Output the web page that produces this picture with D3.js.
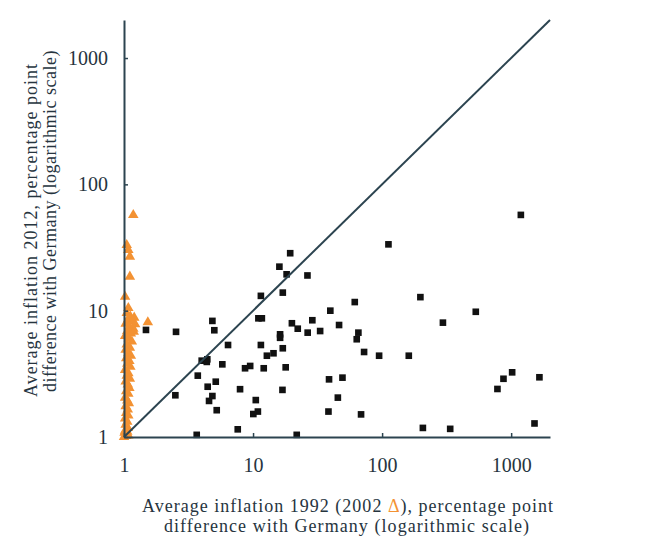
<!DOCTYPE html>
<html>
<head>
<meta charset="utf-8">
<script src="https://cdn.jsdelivr.net/npm/d3@7"></script>
<style>
  body { margin: 0; background: #fff; }
  text { font-family: "Liberation Serif", "Times New Roman", serif; fill: #26343e; white-space: pre; }
</style>
</head>
<body>
<div id="chart"></div>
<script>
// 1992 (x) vs 2012 (y), percentage point difference with Germany
const sqX = [19.4, 16.0, 18.2, 26.4, 17.0, 11.5, 11.0, 11.7, 4.84, 2.53, 5.01, 20.0, 22.2, 26.5, 28.8,
  16.2, 16.2, 6.4, 11.5, 17.0, 14.4, 12.8, 4.0, 4.42, 4.38, 5.78, 9.5, 8.67, 12.1, 17.9,
  3.73, 5.14, 4.45, 7.93, 16.9, 2.5, 4.84, 4.56, 10.5, 5.23, 10.9, 10.05, 7.61, 3.66, 21.8,
  1189, 112, 33.1, 39.7, 61.4, 46.4, 65.5, 63.6, 72.5, 94.8, 161, 198, 296, 532,
  38.8, 49.3, 45.4, 38.4, 68.7, 207, 337, 783, 872, 1018, 1656, 1517, 1.48];
const sqY = [28.5, 22.3, 19.4, 19.0, 13.9, 13.1, 8.7, 8.7, 8.3, 6.8, 7.0, 7.95, 7.2, 6.7, 8.4,
  6.5, 6.1, 5.35, 5.35, 5.04, 4.6, 4.4, 4.02, 4.12, 3.93, 3.76, 3.65, 3.5, 3.5, 3.56,
  3.06, 2.74, 2.5, 2.39, 2.36, 2.14, 2.11, 1.93, 1.96, 1.63, 1.59, 1.52, 1.15, 1.04, 1.04,
  57.3, 33.5, 6.9, 10.0, 11.7, 7.7, 6.7, 5.94, 4.71, 4.4, 4.4, 12.8, 8.04, 9.8,
  2.86, 2.95, 2.05, 1.59, 1.51, 1.18, 1.16, 2.4, 2.89, 3.25, 2.97, 1.28, 7.04];

// 2002 (x) vs 2012 (y), orange triangles
const triX = [1.18, 1.05, 1.08, 1.11, 1.11, 1.02, 1.08, 1.53,
  1.05, 1.12, 1.08, 1.15, 1.03, 1.10, 1.18, 1.06, 1.13, 1.02, 1.09, 1.15, 1.05, 1.11, 1.03, 1.08,
  1.13, 1.04, 1.10, 1.06, 1.12, 1.02, 1.08, 1.05, 1.11, 1.03, 1.07, 1.10, 1.04, 1.08, 1.02, 1.06,
  1.09, 1.03, 1.07, 1.04, 1.08, 1.02, 1.06, 1.03, 1.07, 1.02, 1.05, 1.0, 1.04, 1.08, 1.20, 1.22, 1.19,
  1.01, 1.06];
const triY = [57.2, 33.1, 30.2, 26.8, 18.6, 12.9, 10.5, 8.1,
  9.6, 9.0, 8.6, 8.2, 7.9, 7.5, 7.2, 6.9, 6.6, 6.3, 6.0, 5.7, 5.4, 5.1, 4.9, 4.6,
  4.4, 4.2, 4.0, 3.8, 3.6, 3.4, 3.2, 3.05, 2.9, 2.75, 2.6, 2.45, 2.3, 2.2, 2.05, 1.95,
  1.85, 1.75, 1.65, 1.55, 1.48, 1.4, 1.32, 1.25, 1.18, 1.12, 1.06, 1.0, 1.02, 1.03, 8.8, 7.8, 6.8,
  1.08, 1.1];

const ticks = [1, 10, 100, 1000];
const domain = [1, 2000];

const width = 666, height = 538;
const svg = d3.select("#chart").append("svg")
  .attr("width", width)
  .attr("height", height);

const x = d3.scaleLog().domain(domain).range([124, 550]);
const y = d3.scaleLog().domain(domain).range([437, 20]);
const axisColor = "#2c4450";
const orange = "#f39233";

// triangles first, squares on top
svg.append("g").selectAll("path")
  .data(triX.map((d, i) => [d, triY[i]]))
  .join("path")
  .attr("transform", d => "translate(" + x(d[0]) + "," + y(d[1]) + ")")
  .attr("d", d3.symbol(d3.symbolTriangle, 48))
  .attr("fill", orange);

svg.append("g").selectAll("path")
  .data(sqX.map((d, i) => [d, sqY[i]]))
  .join("path")
  .attr("transform", d => "translate(" + x(d[0]) + "," + y(d[1]) + ")")
  .attr("d", d3.symbol(d3.symbolSquare, 44))
  .attr("fill", "#111");

// 45 degree line
svg.append("line")
  .attr("x1", x(domain[0])).attr("y1", y(domain[0]))
  .attr("x2", x(domain[1])).attr("y2", y(domain[1]))
  .attr("stroke", axisColor)
  .attr("stroke-width", 2);

const xAxis = svg.append("g")
  .attr("transform", "translate(0," + y(1) + ")")
  .call(d3.axisBottom(x).tickValues(ticks).tickFormat(d3.format("d"))
    .tickSizeInner(-4).tickSizeOuter(0).tickPadding(21));

const yAxis = svg.append("g")
  .attr("transform", "translate(" + x(1) + ",0)")
  .call(d3.axisLeft(y).tickValues(ticks).tickFormat(d3.format("d"))
    .tickSizeInner(-4).tickSizeOuter(0).tickPadding(16));

[xAxis, yAxis].forEach(a => {
  a.select(".domain").attr("stroke", axisColor).attr("stroke-width", 2);
  a.selectAll(".tick line").attr("stroke", axisColor).attr("stroke-width", 1.5);
  a.selectAll(".tick text")
    .attr("font-family", "Liberation Serif, serif")
    .attr("font-size", 20)
    .attr("fill", "#26343e");
});

// stretch a title to the width it has in the picture with letter spacing
function fit(t, target) {
  const n = t.text().length;
  const w = t.node().getComputedTextLength();
  t.attr("letter-spacing", ((target - w) / n).toFixed(2));
}

// x title, first line in three pieces so the triangle can be orange
const parts = ["Average inflation 1992 (2002 ", "Δ", "), percentage point"];
const pieces = parts.map((p, i) => svg.append("text")
  .attr("y", 512)
  .attr("font-size", 18)
  .style("fill", i === 1 ? orange : null)
  .text(p));
const natural = d3.sum(pieces, t => t.node().getComputedTextLength());
const nChars = d3.sum(parts, p => p.length);
const spacing = (412 - natural) / nChars;
let cx = 348 - 412 / 2;
pieces.forEach(t => {
  t.attr("letter-spacing", spacing.toFixed(2)).attr("x", cx);
  cx += t.node().getComputedTextLength();
});

fit(svg.append("text")
  .attr("x", 347).attr("y", 532)
  .attr("text-anchor", "middle")
  .attr("font-size", 18)
  .text("difference with Germany (logarithmic scale)"), 366);

// y title
fit(svg.append("text")
  .attr("transform", "translate(37,230) rotate(-90)")
  .attr("text-anchor", "middle")
  .attr("font-size", 18)
  .text("Average inflation 2012, percentage point"), 334);

fit(svg.append("text")
  .attr("transform", "translate(56,221) rotate(-90)")
  .attr("text-anchor", "middle")
  .attr("font-size", 18)
  .text("difference with Germany (logarithmic scale)"), 342);
</script>
</body>
</html>
